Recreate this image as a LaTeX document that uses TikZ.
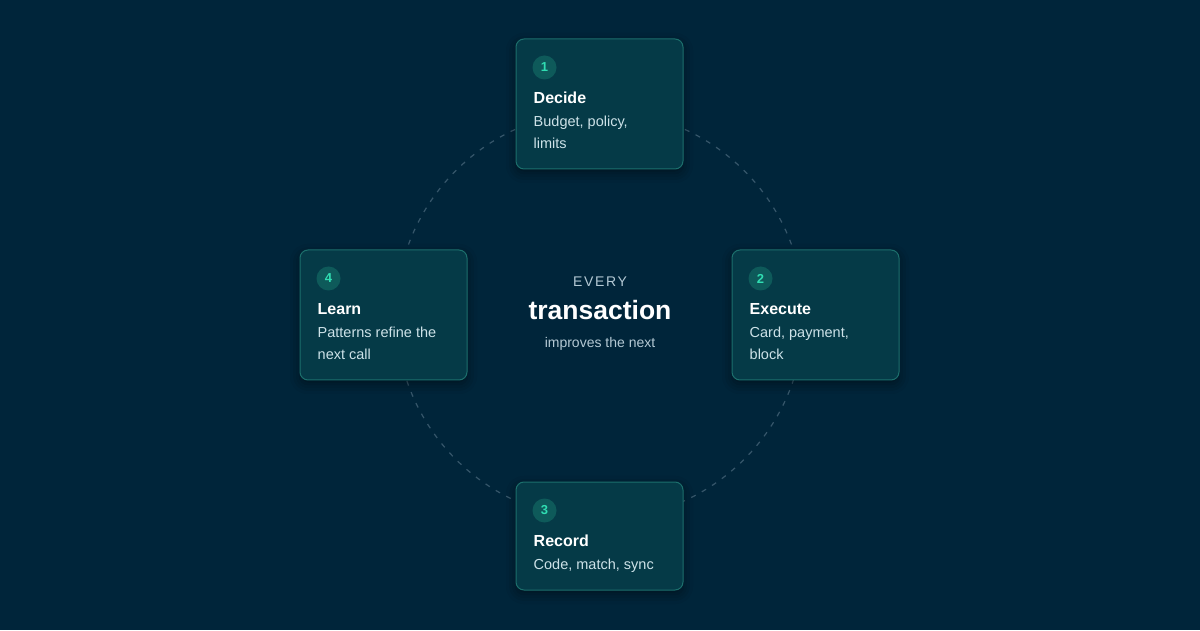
\documentclass[tikz,border=0pt]{standalone}
\usepackage{fontspec}
\setmainfont{Liberation Sans}
\usetikzlibrary{positioning,shadows.blur}

\definecolor{bgnavy}{HTML}{00253A}
\definecolor{cardfill}{HTML}{053A47}
\definecolor{cardedge}{HTML}{1C6F6C}
\definecolor{badgefill}{HTML}{0E5A5A}
\definecolor{badgetext}{HTML}{30DDB2}
\definecolor{desctext}{HTML}{CDE2E8}
\definecolor{ringgray}{HTML}{36566A}
\definecolor{subtext}{HTML}{B4C9D4}

\begin{document}
\begin{tikzpicture}[x=1pt,y=1pt,
    card/.style={draw=cardedge, fill=cardfill, rounded corners=8pt, line width=1pt,
        minimum width=167pt, inner sep=0pt,
        blur shadow={shadow xshift=0pt, shadow yshift=-4pt, shadow blur radius=10pt, shadow opacity=45}},
    badge/.style={circle, fill=badgefill, minimum size=24pt, inner sep=0pt,
        text=badgetext, font=\fontsize{13}{13}\selectfont\bfseries},
    ttl/.style={anchor=base west, inner sep=0pt, text=white,
        font=\fontsize{16}{16}\selectfont\bfseries},
    dsc/.style={anchor=north west, inner sep=0pt, align=left, text=desctext,
        font=\fontsize{14.5}{22}\selectfont}]

    % Background, fixes the page size
    \fill[bgnavy] (0,0) rectangle (1200,630);

    % Dashed ring behind the cards
    \node (hub) at (600,315) {};
    \draw[ringgray, line width=1.2pt, dash pattern=on 5pt off 7pt] (hub.center) circle (204);

    % The four cards
    \foreach \n/\x/\y/\h/\ttl/\dsc in {
        1/599.5/526/130/Decide/{Budget, policy,\\limits},
        2/815.5/315/130/Execute/{Card, payment,\\block},
        3/599.5/94/108/Record/{Code, match, sync},
        4/383.5/315/130/Learn/{Patterns refine the\\next call}} {
        \node[card, minimum height=\h pt] (card\n) at (\x,\y) {};
        \node[badge] (badge\n) at ([shift={(29,-29)}]card\n.north west) {\n};
        \node[ttl] (title\n) at ([shift={(18,-65)}]card\n.north west) {\ttl};
        \node[dsc] (desc\n) at ([shift={(18,-77.5)}]card\n.north west) {\dsc};
    }

    % Centre text
    \node[text=subtext, font=\fontsize{14}{14}\selectfont\addfontfeatures{LetterSpace=12}] (every) at (600,348) {EVERY};
    \node[text=white, font=\fontsize{26.5}{26.5}\selectfont\bfseries] (trans) at (600,320) {transaction};
    \node[text=subtext, font=\fontsize{14}{14}\selectfont] (improves) at (600,286) {improves the next};

\end{tikzpicture}
\end{document}
